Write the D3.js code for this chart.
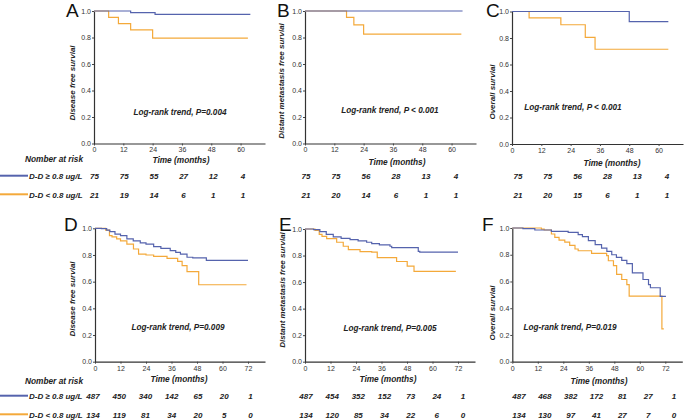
<!DOCTYPE html>
<html><head><meta charset="utf-8">
<script src="https://cdn.jsdelivr.net/npm/d3@7"></script>
<style>
body{margin:0;background:#fff;}
svg{display:block;font-family:"Liberation Sans",Arial,sans-serif;}
.bi{font-weight:bold;font-style:italic;}
.nar{font-family:"Liberation Sans Narrow","Liberation Sans",Arial,sans-serif;}
</style></head><body>
<svg id="c" width="685" height="420"></svg>
<script>
// ---------- data ----------
const groups = ["D-D \u2265 0.8 ug/L", "D-D < 0.8 ug/L"];
const topTicks = [0, 12, 24, 36, 48, 60];
const bottomTicks = [0, 12, 24, 36, 48, 60, 72];
const yTicks = [0, 0.2, 0.4, 0.6, 0.8, 1.0];

// Panel A: disease free survival (cohort 1)
const aHigh = [[0,1],[15,0.988],[25,0.974],[64,0.974]];
const aLow  = [[0,1],[6,0.952],[10,0.905],[15,0.857],[24,0.795],[63,0.795]];
// Panel B: distant metastasis free survival (cohort 1)
const bHigh = [[0,1],[64.5,1]];
const bLow  = [[0,1],[17,0.952],[20,0.895],[24,0.825],[64,0.825]];
// Panel C: overall survival (cohort 1)
const cHigh = [[0,1],[48,0.924],[64,0.924]];
const cLow  = [[0,1],[7,0.952],[20,0.9],[30,0.805],[34,0.715],[64,0.715]];
// Panel D: disease free survival (cohort 2)
const dHigh = [[0,1],[3,0.997],[5.5,0.987],[7,0.975],[9.4,0.957],[12,0.945],[15,0.92],[18,0.905],[21.3,0.89],[24,0.882],[27.6,0.862],[31,0.85],[35.4,0.832],[38,0.82],[40.2,0.807],[43.3,0.783],[46,0.778],[52.4,0.76],[72,0.76]];
const dLow  = [[0,1],[5,0.987],[6.8,0.945],[8,0.935],[10.2,0.92],[12,0.905],[15,0.882],[18.1,0.845],[20.5,0.807],[24,0.8],[27.6,0.79],[33.9,0.775],[38.9,0.752],[41,0.72],[43.3,0.675],[48.8,0.577],[71.3,0.577]];
// Panel E: distant metastasis free survival (cohort 2)
const eHigh = [[0,1],[4,0.995],[7,0.98],[10,0.96],[13.3,0.94],[17,0.93],[21.2,0.92],[25,0.91],[29,0.9],[31.4,0.89],[35,0.88],[40,0.87],[40.8,0.86],[53.3,0.832],[54,0.825],[72,0.825]];
const eLow  = [[0,1],[4.7,0.99],[6.7,0.96],[8,0.945],[10.2,0.928],[14.9,0.9],[18,0.87],[20.4,0.845],[25.9,0.83],[31.4,0.825],[34,0.785],[43.1,0.755],[48.1,0.72],[51.3,0.68],[71,0.68]];
// Panel F: overall survival (cohort 2)
const fHigh = [[0,1],[5,0.995],[10.6,0.985],[18.4,0.975],[26.3,0.967],[31,0.95],[33,0.935],[35.8,0.905],[39,0.875],[42,0.85],[44.5,0.825],[46.8,0.8],[49,0.78],[51.5,0.758],[53.9,0.733],[56.5,0.665],[61.5,0.615],[64.1,0.577],[65,0.553],[69.6,0.489],[72.3,0.489]];
const fLow  = [[0,1],[13.7,0.992],[15,0.985],[18.4,0.955],[20,0.93],[22,0.91],[24.7,0.894],[27,0.87],[29.5,0.843],[31,0.83],[37.3,0.81],[44.4,0.793],[45.2,0.755],[47.6,0.718],[49.1,0.653],[51.5,0.615],[53.9,0.577],[55,0.49],[70.4,0.245],[71.3,0.245]];

// Numbers at risk
const aRiskHigh = [75,75,55,27,12,4],  aRiskLow = [21,19,14,6,1,1];
const bRiskHigh = [75,75,56,28,13,4],  bRiskLow = [21,20,14,6,1,1];
const cRiskHigh = [75,75,56,28,13,4],  cRiskLow = [21,20,15,6,1,1];
const dRiskHigh = [487,450,340,142,65,20,1], dRiskLow = [134,119,81,34,20,5,0];
const eRiskHigh = [487,454,352,152,73,24,1], eRiskLow = [134,120,85,34,22,6,0];
const fRiskHigh = [487,468,382,172,81,27,1], fRiskLow = [134,130,97,41,27,7,0];

const pTexts = ["Log-rank trend, P=0.004","Log-rank trend, P < 0.001","Log-rank trend, P < 0.001",
                "Log-rank trend, P=0.009","Log-rank trend, P=0.005","Log-rank trend, P=0.019"];
const yTitles = ["Disease free survial","Distant metastasis free survial","Overall survial",
                 "Disease free survial","Distant metastasis free survial","Overall survial"];
const letters = ["A","B","C","D","E","F"];

// ---------- drawing ----------
const colHigh = "#5563ad", colLow = "#f4a93a";
const svg = d3.select("#c");

const panels = [
 {x0:94, y1:11, y0:143.5, w:171, max:70, ticks:topTicks, high:aHigh, low:aLow, rh:aRiskHigh, rl:aRiskLow,
  letter:[66,17], yt:[75,83], pt:[180,115], tt:[181,163], rx:[94.5,243], ry:[179,197.5]},
 {x0:305, y1:11, y0:143.5, w:171, max:70, ticks:topTicks, high:bHigh, low:bLow, rh:bRiskHigh, rl:bRiskLow,
  letter:[277,17], yt:[284,81], pt:[390,113], tt:[397,165], rx:[306,456], ry:[179,197.5]},
 {x0:512, y1:11.5, y0:144, w:171, max:70, ticks:topTicks, high:cHigh, low:cLow, rh:cRiskHigh, rl:cRiskLow,
  letter:[486,17], yt:[495,92], pt:[573,110], tt:[612,166], rx:[518,667], ry:[179,197.5]},
 {x0:95, y1:228.3, y0:361.7, w:170, max:80, ticks:bottomTicks, high:dHigh, low:dLow, rh:dRiskHigh, rl:dRiskLow,
  letter:[64,231], yt:[75,299], pt:[178,330], tt:[179,382], rx:[93,250.5], ry:[399,417.5]},
 {x0:305, y1:229, y0:361.7, w:170, max:80, ticks:bottomTicks, high:eHigh, low:eLow, rh:eRiskHigh, rl:eRiskLow,
  letter:[279,231], yt:[285,290], pt:[390,331], tt:[388,382], rx:[306,463], ry:[399,417.5]},
 {x0:512.3, y1:228, y0:361.7, w:170, max:80, ticks:bottomTicks, high:fHigh, low:fLow, rh:fRiskHigh, rl:fRiskLow,
  letter:[482,231], yt:[495,313], pt:[570,330], tt:[599,384], rx:[519,674], ry:[399,417.5]}
];

panels.forEach((p, i) => {
  const x = d3.scaleLinear().domain([0, p.max]).range([p.x0, p.x0 + p.w]);
  const y = d3.scaleLinear().domain([0, 1]).range([p.y0, p.y1]);
  const g = svg.append("g");

  // axes
  const xa = g.append("g").attr("transform", `translate(0,${p.y0})`)
    .call(d3.axisBottom(x).tickValues(p.ticks).tickSize(2).tickPadding(2).tickSizeOuter(0));
  const ya = g.append("g").attr("transform", `translate(${p.x0},0)`)
    .call(d3.axisLeft(y).tickValues(yTicks).tickSize(2).tickPadding(1).tickSizeOuter(0).tickFormat(d3.format(".1f")));
  [xa, ya].forEach(a => {
    a.selectAll("text").attr("font-size", 7).attr("fill", "#333").attr("font-family", "Liberation Sans, Arial, sans-serif");
    a.selectAll("line").attr("stroke", "#444");
    a.select(".domain").attr("stroke", "#333").attr("stroke-width", 1.2);
  });

  // curves
  const line = d3.line().x(d => x(d[0])).y(d => y(d[1])).curve(d3.curveStepAfter);
  g.append("path").datum(p.low).attr("d", line).attr("fill", "none").attr("stroke", colLow).attr("stroke-width", 1.2);
  g.append("path").datum(p.high).attr("d", line).attr("fill", "none").attr("stroke", colHigh).attr("stroke-width", 1.2);

  // texts
  g.append("text").attr("x", p.letter[0]).attr("y", p.letter[1]).attr("font-size", 19).attr("fill", "#111").text(letters[i]);
  g.append("text").attr("class", "bi").attr("transform", `translate(${p.yt[0]},${p.yt[1]}) rotate(-90)`)
    .attr("text-anchor", "middle").attr("font-size", 8).attr("fill", "#222").text(yTitles[i]);
  g.append("text").attr("class", "bi").attr("x", p.pt[0]).attr("y", p.pt[1]).attr("text-anchor", "middle")
    .attr("font-size", 8.2).attr("fill", "#222").text(pTexts[i]);
  g.append("text").attr("class", "bi").attr("x", p.tt[0]).attr("y", p.tt[1]).attr("text-anchor", "middle")
    .attr("font-size", 8.3).attr("fill", "#222").text("Time (months)");

  // number at risk
  const rx = d3.scaleLinear().domain([0, p.rh.length - 1]).range(p.rx);
  [p.rh, p.rl].forEach((arr, k) => {
    g.selectAll(null).data(arr).enter().append("text").attr("class", "bi nar")
      .attr("x", (d, j) => rx(j)).attr("y", p.ry[k]).attr("text-anchor", "middle")
      .attr("font-size", 8).attr("fill", "#222").text(d => d);
  });
});

// legends / row labels
[[162, 179, 197.5, 175.7, 194.3], [384, 399, 417.5, 395.7, 414.3]].forEach(r => {
  svg.append("text").attr("class", "bi").attr("x", 25).attr("y", r[0]).attr("font-size", 8.3).attr("fill", "#222").text("Nomber at risk");
  [colHigh, colLow].forEach((c, k) => {
    svg.append("line").attr("x1", 0).attr("x2", 28).attr("y1", r[3 + k]).attr("y2", r[3 + k]).attr("stroke", c).attr("stroke-width", 2);
    svg.append("text").attr("class", "bi nar").attr("x", 29).attr("y", r[1 + k]).attr("font-size", 8).attr("fill", "#222").text(groups[k]);
  });
});
</script>
</body></html>
